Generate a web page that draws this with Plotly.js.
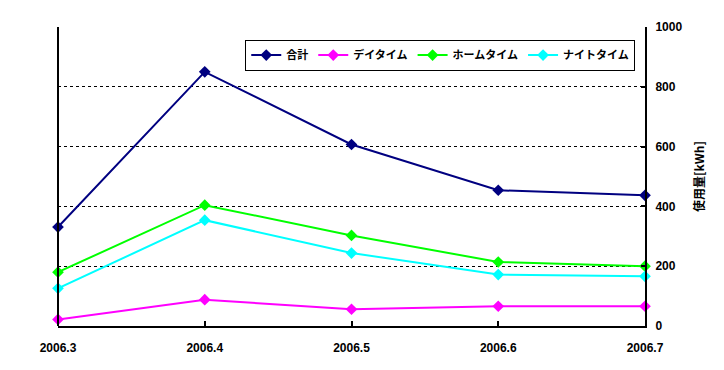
<!DOCTYPE html>
<html>
<head>
<meta charset="utf-8">
<script src="https://cdn.plot.ly/plotly-3.0.1.min.js"></script>
<style>html,body{margin:0;padding:0;background:#fff;}#chart{width:724px;height:370px;}</style>
</head>
<body>
<div id="chart"></div>
<script>
const months = ["2006.3", "2006.4", "2006.5", "2006.6", "2006.7"];
const total = [331, 850, 607, 454, 437];
const daytime = [22, 88, 56, 66, 66];
const hometime = [180, 404, 303, 214, 200];
const nighttime = [126, 354, 244, 172, 166];
const seriesNames = ["合計", "デイタイム", "ホームタイム", "ナイトタイム"];
const seriesColors = ["#000080", "#FF00FF", "#00FF00", "#00FFFF"];
const yTicks = [0, 200, 400, 600, 800, 1000];

const idx = months.map((m, i) => i);
const data = [total, daytime, hometime, nighttime].map((vals, k) => ({
  type: "scatter",
  mode: "lines+markers",
  x: idx,
  y: vals,
  name: seriesNames[k],
  cliponaxis: false,
  line: {color: seriesColors[k], width: 2},
  marker: {symbol: "diamond", size: 9, color: seriesColors[k]}
}));

const font = "'Liberation Sans', Arial, sans-serif";
const layout = {
  width: 724, height: 370,
  margin: {l: 58, r: 79, t: 27, b: 44},
  paper_bgcolor: "#fff", plot_bgcolor: "#fff",
  showlegend: true,
  legend: {
    orientation: "h", x: 0.319, y: 0.958, xanchor: "left", yanchor: "top",
    bordercolor: "#000", borderwidth: 1, bgcolor: "#fff",
    font: {family: "'Noto Sans CJK JP', sans-serif", size: 11, color: "#000", weight: "bold"},
    itemwidth: 30, tracegroupgap: 0
  },
  xaxis: {
    range: [0, 4], tickmode: "array", tickvals: idx, ticktext: months,
    showgrid: false, zeroline: false,
    showline: true, linecolor: "#000", linewidth: 2,
    ticks: "inside", ticklen: 5, tickcolor: "#000", tickwidth: 2,
    ticklabelstandoff: 10,
    tickfont: {family: font, size: 12, color: "#000", weight: "bold"}
  },
  yaxis: {
    side: "right", range: [0, 1000], tickvals: yTicks,
    showgrid: true, gridcolor: "#000", griddash: "3px,3px", gridwidth: 1,
    zeroline: false,
    showline: true, linecolor: "#000", linewidth: 2,
    ticks: "inside", ticklen: 4, tickcolor: "#000", tickwidth: 2,
    ticklabelstandoff: 6,
    tickfont: {family: font, size: 12, color: "#000", weight: "bold"},
    title: {text: "使用量[kWh]", standoff: 14, font: {family: "'Noto Sans CJK JP', sans-serif", size: 12, color: "#000", weight: "bold"}}
  },
  shapes: [{type: "line", xref: "paper", yref: "paper", x0: 0, x1: 0, y0: 0, y1: 1, line: {color: "#000", width: 2}}]
};

Plotly.newPlot("chart", data, layout, {displayModeBar: false, staticPlot: true});
</script>
</body>
</html>
